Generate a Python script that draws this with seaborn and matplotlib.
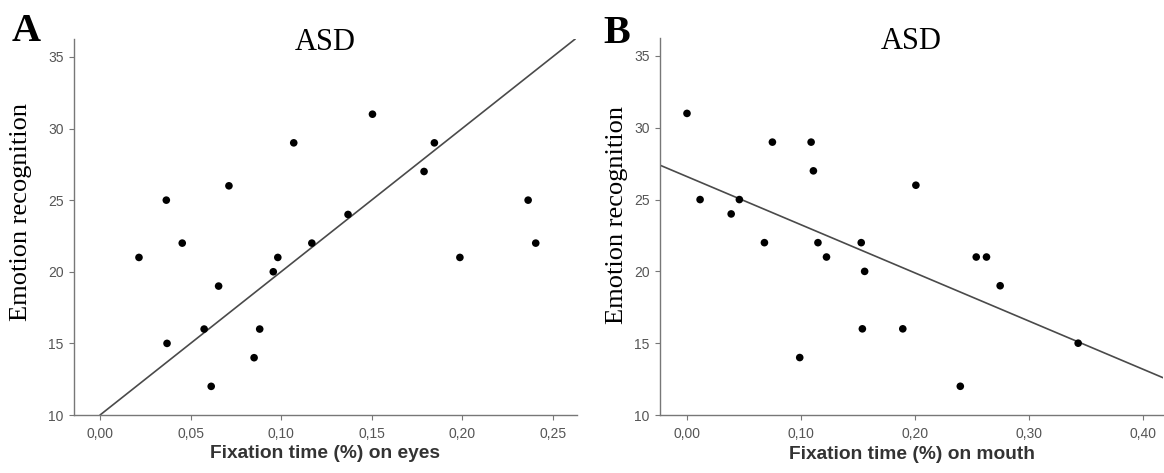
import seaborn as sns
import matplotlib.pyplot as plt
import pandas as pd
from matplotlib.ticker import FuncFormatter

# Pannello A: tempo di fissazione sugli occhi vs riconoscimento emozioni
eyes_time = [0.0215, 0.0366, 0.037, 0.0454, 0.0575, 0.0614, 0.0655, 0.0712,
             0.0851, 0.0882, 0.0957, 0.0982, 0.107, 0.117, 0.137, 0.1505,
             0.179, 0.1847, 0.1988, 0.2365, 0.2407]
eyes_score = [21, 25, 15, 22, 16, 12, 19, 26, 14, 16, 20, 21, 29, 22, 24, 31,
              27, 29, 21, 25, 22]
eyes_fit = [10.0, 100.0]          # intercetta, pendenza
eyes_ticks = [0.00, 0.05, 0.10, 0.15, 0.20, 0.25]

# Pannello B: tempo di fissazione sulla bocca vs riconoscimento emozioni
mouth_time = [0.000, 0.0115, 0.0388, 0.046, 0.068, 0.075, 0.099, 0.109, 0.111,
              0.115, 0.1225, 0.153, 0.154, 0.156, 0.1895, 0.201, 0.240, 0.254,
              0.263, 0.275, 0.3435]
mouth_score = [31, 25, 24, 25, 22, 29, 14, 29, 27, 22, 21, 22, 16, 20, 16, 26,
               12, 21, 21, 19, 15]
mouth_fit = [26.6, -33.5]
mouth_ticks = [0.00, 0.10, 0.20, 0.30, 0.40]

y_ticks = [10, 15, 20, 25, 30, 35]

sns.set_style("ticks")
plt.rcParams['font.family'] = ['Liberation Sans', 'DejaVu Sans']

fig = plt.figure(figsize=(11.64, 4.73), dpi=100)
ax_a = fig.add_axes([74 / 1164, 1 - 415 / 473, 503 / 1164, 376 / 473])
ax_b = fig.add_axes([660 / 1164, 1 - 415 / 473, 503 / 1164, 377 / 473])

eyes = pd.DataFrame({"x": eyes_time, "y": eyes_score})
mouth = pd.DataFrame({"x": mouth_time, "y": mouth_score})

comma = FuncFormatter(lambda v, p: f"{v:.2f}".replace(".", ","))

panels = [
    (ax_a, eyes, eyes_fit, eyes_ticks, (-0.0144, 0.2635), "Fixation time (%) on eyes"),
    (ax_b, mouth, mouth_fit, mouth_ticks, (-0.0237, 0.418), "Fixation time (%) on mouth"),
]

for ax, df, fit, xt, xlim, xlab in panels:
    sns.scatterplot(data=df, x="x", y="y", ax=ax, color="black", s=30,
                    edgecolor="none", zorder=3)
    ax.axline((0, fit[0]), slope=fit[1], color="#4a4a4a", lw=1.2, zorder=2)
    ax.set_xlim(*xlim)
    ax.set_ylim(10, 36.25)
    ax.set_xticks(xt)
    ax.set_yticks(y_ticks)
    ax.xaxis.set_major_formatter(comma)
    sns.despine(ax=ax)
    for s in ("left", "bottom"):
        ax.spines[s].set_color("#777777")
        ax.spines[s].set_linewidth(1.0)
    ax.tick_params(length=3.5, width=0.8, color="#777777", labelsize=10,
                   labelcolor="#555555", pad=4)
    ax.tick_params(axis="x", pad=5)
    ax.set_xlabel(xlab, fontsize=13.75, fontweight="bold", color="#333333",
                  va="top")
    ax.xaxis.set_label_coords(0.5, -0.081)
    ax.set_ylabel("Emotion recognition", fontsize=19, family="Liberation Serif",
                  color="black")
    ax.text(0.5, 0.971, "ASD", transform=ax.transAxes, ha="center",
            va="baseline", fontsize=22, family="Liberation Serif", color="black")

ax_a.yaxis.set_label_coords(-0.084, 0.54)
ax_b.yaxis.set_label_coords(-0.064, 0.53)

fig.text(12 / 1164, 1 - 41 / 473, "A", fontsize=29, fontweight="bold",
         family="Liberation Serif", va="baseline", color="black")
fig.text(603 / 1164, 1 - 43 / 473, "B", fontsize=29, fontweight="bold",
         family="Liberation Serif", va="baseline", color="black")

fig.savefig("out.png", dpi=100)
